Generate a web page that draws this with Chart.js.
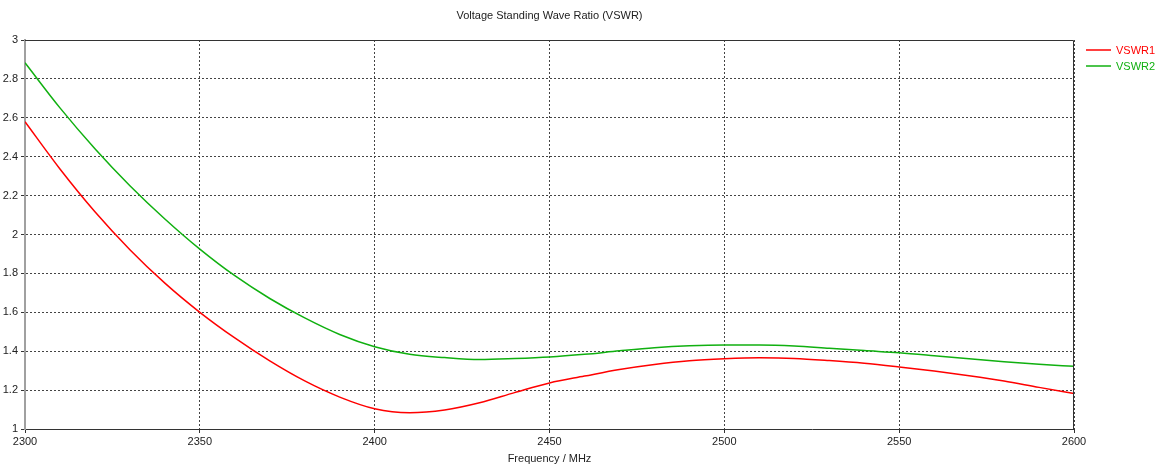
<!DOCTYPE html>
<html>
<head>
<meta charset="utf-8">
<script src="https://cdn.jsdelivr.net/npm/chart.js@4"></script>
<style>
    html, body { margin: 0; padding: 0; background: #fff; }
    #wrap { width: 1158px; height: 468px; }
</style>
</head>
<body>
<div id="wrap"><canvas id="vswrChart" width="1158" height="468"></canvas></div>
<script>
// Frequency points (MHz)
const freqs = [2300, 2310, 2320, 2330, 2340, 2350, 2360, 2370, 2380, 2390,
               2400, 2410, 2420, 2430, 2440, 2450, 2460, 2470, 2480, 2490,
               2500, 2510, 2520, 2530, 2540, 2550, 2560, 2570, 2580, 2590, 2600];

const vswr1 = [2.58, 2.337, 2.117, 1.922, 1.75, 1.60, 1.468, 1.35, 1.247, 1.164,
               1.104, 1.084, 1.098, 1.135, 1.187, 1.237, 1.272, 1.306, 1.332, 1.351,
               1.361, 1.366, 1.363, 1.352, 1.338, 1.319, 1.298, 1.274, 1.247, 1.214, 1.183];

const vswr2 = [2.883, 2.651, 2.441, 2.251, 2.08, 1.925, 1.788, 1.671, 1.571, 1.486,
               1.423, 1.384, 1.367, 1.357, 1.362, 1.370, 1.384, 1.402, 1.418, 1.428,
               1.432, 1.432, 1.427, 1.415, 1.403, 1.392, 1.377, 1.361, 1.346, 1.333, 1.322];

const xTicks = [2300, 2350, 2400, 2450, 2500, 2550, 2600];
const yTicks = [1, 1.2, 1.4, 1.6, 1.8, 2, 2.2, 2.4, 2.6, 2.8, 3];

const seriesNames = ["VSWR1", "VSWR2"];
const seriesColors = ["#ff0000", "#10b010"];
const chartTitle = "Voltage Standing Wave Ratio (VSWR)";
const xTitle = "Frequency / MHz";

const FONT = "'Liberation Sans', Arial, sans-serif";

// title centred over plot area + frame on top/right + legend at right
const framePlugin = {
    id: "frame",
    afterDraw(chart) {
        const ctx = chart.ctx;
        const a = chart.chartArea;
        ctx.save();
        ctx.strokeStyle = "#333";
        ctx.lineWidth = 1;
        ctx.beginPath();
        ctx.moveTo(a.left, a.top + 0.5);
        ctx.lineTo(a.right - 0.5, a.top + 0.5);
        ctx.lineTo(a.right - 0.5, a.bottom);
        ctx.stroke();

        ctx.fillStyle = "#222";
        ctx.font = "11px " + FONT;
        ctx.textAlign = "center";
        ctx.textBaseline = "middle";
        ctx.fillText(chartTitle, (a.left + a.right) / 2, 16);

        ctx.textAlign = "left";
        chart.data.datasets.forEach((ds, i) => {
            const y = 50 + i * 16;
            ctx.strokeStyle = ds.borderColor;
            ctx.lineWidth = 1.5;
            ctx.beginPath();
            ctx.moveTo(a.right + 12, y);
            ctx.lineTo(a.right + 37, y);
            ctx.stroke();
            ctx.fillStyle = ds.borderColor;
            ctx.fillText(ds.label, a.right + 42, y + 1);
        });
        ctx.restore();
    }
};

function gridOpts() {
    return {
        color: "#444",
        tickLength: 4,
        tickColor: "#333",
        tickBorderDash: []
    };
}

new Chart(document.getElementById("vswrChart"), {
    type: "line",
    data: {
        labels: freqs,
        datasets: [
            {
                label: seriesNames[0],
                data: freqs.map((f, i) => ({ x: f, y: vswr1[i] })),
                borderColor: seriesColors[0],
                borderWidth: 1.5,
                pointRadius: 0,
                cubicInterpolationMode: "monotone",
                fill: false
            },
            {
                label: seriesNames[1],
                data: freqs.map((f, i) => ({ x: f, y: vswr2[i] })),
                borderColor: seriesColors[1],
                borderWidth: 1.5,
                pointRadius: 0,
                cubicInterpolationMode: "monotone",
                fill: false
            }
        ]
    },
    options: {
        responsive: false,
        animation: false,
        layout: { padding: { top: 40, right: 84, left: 0, bottom: 0 } },
        plugins: {
            legend: { display: false },
            title: { display: false },
            tooltip: { enabled: false }
        },
        scales: {
            x: {
                type: "linear",
                min: 2300,
                max: 2600,
                afterBuildTicks: s => { s.ticks = xTicks.map(v => ({ value: v })); },
                afterFit: s => { s.height = 39; },
                ticks: {
                    color: "#222",
                    font: { family: FONT, size: 11 },
                    padding: 2,
                    maxRotation: 0,
                    callback: v => String(v)
                },
                grid: gridOpts(),
                border: { color: "#333", width: 1, dash: [2, 2] },
                title: {
                    display: true,
                    text: xTitle,
                    color: "#222",
                    font: { family: FONT, size: 11 },
                    padding: { top: 0, bottom: 2 }
                }
            },
            y: {
                min: 1,
                max: 3,
                afterBuildTicks: s => { s.ticks = yTicks.map(v => ({ value: v })); },
                afterFit: s => { s.width = 25; },
                ticks: {
                    color: "#222",
                    font: { family: FONT, size: 11 },
                    padding: 3,
                    callback: v => String(v)
                },
                grid: gridOpts(),
                border: { color: "#a0a0a0", width: 2, dash: [2, 2] }
            }
        }
    },
    plugins: [framePlugin]
});
</script>
</body>
</html>
